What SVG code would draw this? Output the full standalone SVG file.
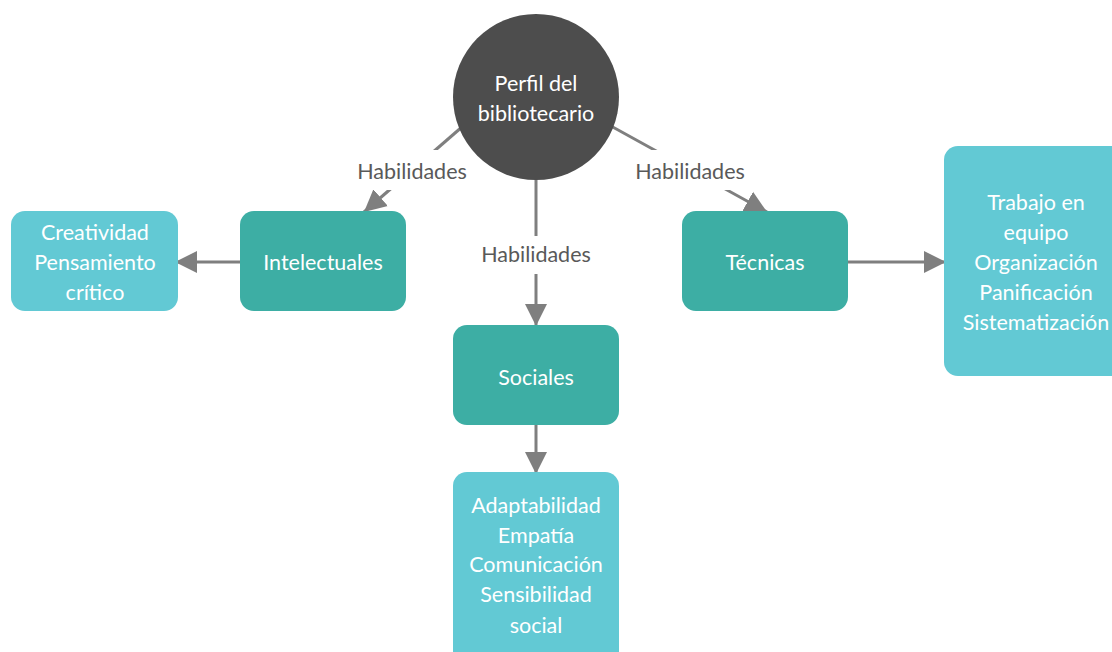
<svg xmlns="http://www.w3.org/2000/svg" width="1112" height="652" viewBox="0 0 1112 652">
<style>
.main{fill:#3daea4}
.leaf{fill:#62c9d4}
.t{font-family:Lato,"Open Sans","Liberation Sans",sans-serif;font-size:21.5px;fill:#ffffff;text-anchor:middle}
.lbl{font-family:Lato,"Open Sans","Liberation Sans",sans-serif;font-size:21.5px;fill:#595959;text-anchor:middle}
.c{stroke:#7f7f7f;stroke-width:3;fill:none}
</style>
<defs>
<marker id="ah" markerUnits="userSpaceOnUse" markerWidth="24" markerHeight="24" viewBox="0 0 24 24" refX="22" refY="12" orient="auto">
<path d="M0,1 L22,12 L0,23 Z" fill="#7f7f7f"/>
</marker>
</defs>
<rect width="1112" height="652" fill="#ffffff"/>
<g id="connectors">
<line class="c" x1="470" y1="120" x2="364" y2="212" marker-end="url(#ah)"/>
<line class="c" x1="536" y1="170" x2="536" y2="326" marker-end="url(#ah)"/>
<line class="c" x1="600" y1="120" x2="767" y2="212" marker-end="url(#ah)"/>
<line class="c" x1="240" y1="262" x2="175" y2="262" marker-end="url(#ah)"/>
<line class="c" x1="848" y1="262" x2="946" y2="262" marker-end="url(#ah)"/>
<line class="c" x1="536" y1="425" x2="536" y2="474" marker-end="url(#ah)"/>
<rect x="352" y="150" width="120" height="40" fill="#ffffff"/>
<rect x="629" y="150" width="122" height="40" fill="#ffffff"/>
<rect x="475" y="236" width="122" height="38" fill="#ffffff"/>
<text class="lbl" x="412" y="179">Habilidades</text>
<text class="lbl" x="690" y="179">Habilidades</text>
<text class="lbl" x="536" y="262">Habilidades</text>
</g>
<g id="perfil">
<circle cx="536" cy="97" r="83" fill="#4d4d4d"/>
<text class="t" x="536" y="91">Perfil del</text>
<text class="t" x="536" y="121">bibliotecario</text>
</g>
<g id="intelectuales">
<rect class="main" x="240" y="211" width="166" height="100" rx="14"/>
<text class="t" x="323" y="270">Intelectuales</text>
</g>
<g id="creatividad">
<rect class="leaf" x="11" y="211" width="167" height="100" rx="14"/>
<text class="t" x="95" y="240">Creatividad</text>
<text class="t" x="95" y="270">Pensamiento</text>
<text class="t" x="95" y="300">crítico</text>
</g>
<g id="tecnicas">
<rect class="main" x="682" y="211" width="166" height="100" rx="14"/>
<text class="t" x="765" y="270">Técnicas</text>
</g>
<g id="trabajo">
<rect class="leaf" x="944" y="146" width="190" height="230" rx="14"/>
<text class="t" x="1036" y="210">Trabajo en</text>
<text class="t" x="1036" y="240">equipo</text>
<text class="t" x="1036" y="270">Organización</text>
<text class="t" x="1036" y="300">Panificación</text>
<text class="t" x="1036" y="330">Sistematización</text>
</g>
<g id="sociales">
<rect class="main" x="453" y="325" width="166" height="100" rx="14"/>
<text class="t" x="536" y="385">Sociales</text>
</g>
<g id="adaptabilidad">
<rect class="leaf" x="453" y="472" width="166" height="200" rx="14"/>
<text class="t" x="536" y="513">Adaptabilidad</text>
<text class="t" x="536" y="543">Empatía</text>
<text class="t" x="536" y="572">Comunicación</text>
<text class="t" x="536" y="602">Sensibilidad</text>
<text class="t" x="536" y="633">social</text>
</g>
</svg>
